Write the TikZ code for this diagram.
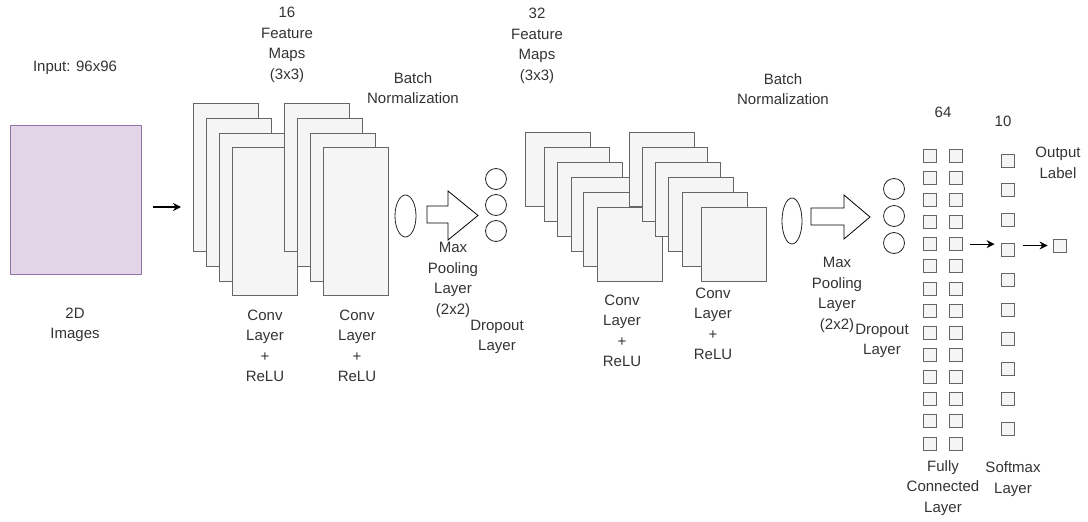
\documentclass[tikz,border=0pt]{standalone}
\usepackage{fontspec}
\setmainfont{Liberation Sans}
\usetikzlibrary{arrows.meta,shapes.geometric}
\definecolor{mapfill}{HTML}{F5F5F5}
\definecolor{mapline}{HTML}{666666}
\definecolor{infill}{HTML}{E1D5E7}
\definecolor{inline}{HTML}{9673A6}
\definecolor{txt}{HTML}{333333}
\begin{document}
\begin{tikzpicture}[x=1pt, y=-1pt,
  lab/.style={font=\fontsize{15}{20.5}\selectfont, text=txt, align=center, inner sep=0pt},
  fmap/.style={draw=mapline, fill=mapfill, line width=0.8pt, anchor=north west, inner sep=0pt},
  unit/.style={draw=mapline, fill=mapfill, line width=0.8pt, minimum size=13pt, inner sep=0pt},
  bnorm/.style={ellipse, draw=black!85, line width=0.8pt, inner sep=0pt},
  drop/.style={circle, draw=black!85, line width=0.8pt, minimum size=21pt, inner sep=0pt},
  arr/.style={-{Stealth[length=8pt,width=8pt]}, line width=1.2pt}]
  \useasboundingbox (0,0) rectangle (1088,522);
  \node[draw=inline, fill=infill, line width=0.8pt, minimum width=131pt, minimum height=149pt, inner sep=0pt] (in) at (75.5,199.5) {};
  \node[lab] (inlab) at (75,68) {Input: 96x96};
  \node[lab] (imglab) at (75,325) {2D\\Images};
  \foreach \i/\x/\y in {1/193/103, 2/206/118, 3/219/133, 4/232/147}
    \node[fmap, minimum width=65pt, minimum height=148pt] (c1-\i) at (\x,\y) {};
  \foreach \i/\x/\y in {1/284/103, 2/297/118, 3/310/133, 4/323/147}
    \node[fmap, minimum width=65pt, minimum height=148pt] (c2-\i) at (\x,\y) {};
  \node[lab] (fm1) at (287,45) {16\\Feature\\Maps\\(3x3)};
  \node[lab] (conv1) at (265,346) {Conv\\Layer\\+\\ReLU};
  \node[lab] (conv2) at (357,346) {Conv\\Layer\\+\\ReLU};
  \node[bnorm, minimum width=21pt, minimum height=42pt] (bn1) at (405.5,216) {};
  \node[lab] (bnlab1) at (413,88) {Batch\\Normalization};
  \draw[line width=0.8pt, fill=white] (427,206) -- (448,206) -- (448,191) -- (478,215.5) -- (448,240) -- (448,223) -- (427,223) -- cycle;
  \node[lab] (mp1) at (453,280) {Max\\Pooling\\Layer\\(2x2)};
  \node[drop] (d1-1) at (496,179) {};
  \node[drop] (d1-2) at (496,205) {};
  \node[drop] (d1-3) at (496,231) {};
  \node[lab] (dl1) at (497,337) {Dropout\\Layer};
  \foreach \i/\x/\y in {1/525/132, 2/544/147, 3/557/162, 4/571/177, 5/583/192, 6/597/207}
    \node[fmap, minimum width=65pt, minimum height=74pt] (c3-\i) at (\x,\y) {};
  \foreach \i/\x/\y in {1/629/132, 2/642/147, 3/655/162, 4/668/177, 5/682/192, 6/701/207}
    \node[fmap, minimum width=65pt, minimum height=74pt] (c4-\i) at (\x,\y) {};
  \node[lab] (fm2) at (537,46) {32\\Feature\\Maps\\(3x3)};
  \node[lab] (conv3) at (622,331) {Conv\\Layer\\+\\ReLU};
  \node[lab] (conv4) at (713,324) {Conv\\Layer\\+\\ReLU};
  \node[bnorm, minimum width=20pt, minimum height=46pt] (bn2) at (792,221) {};
  \node[lab] (bnlab2) at (783,89) {Batch\\Normalization};
  \draw[line width=0.8pt, fill=white] (811,208) -- (844,208) -- (844,195) -- (870,217) -- (844,239) -- (844,225) -- (811,225) -- cycle;
  \node[lab] (mp2) at (837,295) {Max\\Pooling\\Layer\\(2x2)};
  \node[drop] (d2-1) at (894,189) {};
  \node[drop] (d2-2) at (894,216) {};
  \node[drop] (d2-3) at (894,243) {};
  \node[lab] (dl2) at (882,341) {Dropout\\Layer};
  \foreach \r in {0,...,13} {
    \node[unit] (f1-\r) at (929.5,{155.5+22.15*\r}) {};
    \node[unit] (f2-\r) at (955.5,{155.5+22.15*\r}) {};
  }
  \foreach \r in {0,...,9}
    \node[unit] (sm-\r) at (1007.5,{160.5+29.78*\r}) {};
  \node[unit] (out) at (1059.5,245.5) {};
  \node[lab] (n64) at (943,112) {64};
  \node[lab] (n10) at (1003,121) {10};
  \node[lab] (outlab) at (1058,163) {Output\\Label};
  \node[lab] (fclab) at (943,488) {Fully\\Connected\\Layer};
  \node[lab] (smlab) at (1013,479) {Softmax\\Layer};
  \coordinate (a0) at ([shift={(12,7.5)}]in.east);
  \draw[arr, shorten >=12pt] (a0) -- (a0 -| c1-1.west);
  \draw[arr, shorten <=8pt, shorten >=6pt] (f2-4.east) -- (f2-4.east -| sm-3.west);
  \draw[arr, shorten <=9pt, shorten >=5pt] (sm-3.east |- out.west) -- (out.west);
\end{tikzpicture}
\end{document}
